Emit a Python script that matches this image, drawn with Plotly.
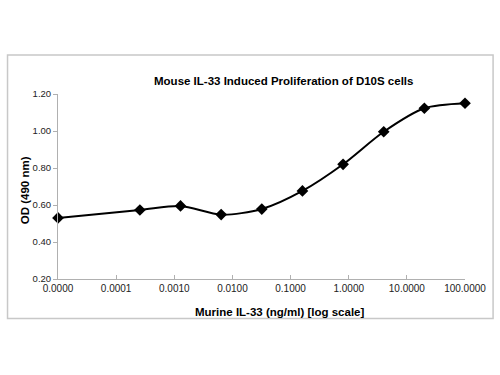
import plotly.graph_objects as go

conc_ng_ml = [0.00001, 0.000256, 0.00128, 0.0064, 0.032, 0.16, 0.8, 4, 20, 100]
od_490 = [0.530, 0.573, 0.595, 0.548, 0.578, 0.676, 0.820, 0.996, 1.123, 1.150]

x_tickvals = [0.00001, 0.0001, 0.001, 0.01, 0.1, 1, 10, 100]
x_ticktext = ["0.0000", "0.0001", "0.0010", "0.0100", "0.1000", "1.0000", "10.0000", "100.0000"]
y_tickvals = [0.2, 0.4, 0.6, 0.8, 1.0, 1.2]
y_ticktext = ["0.20", "0.40", "0.60", "0.80", "1.00", "1.20"]

FONT = "Liberation Sans, Arial, sans-serif"

fig = go.Figure()
fig.add_trace(go.Scatter(
    x=conc_ng_ml, y=od_490, mode="lines+markers",
    line=dict(color="black", width=2, shape="spline", smoothing=0.8),
    marker=dict(symbol="diamond", size=9, color="black"),
    cliponaxis=False, showlegend=False,
))

fig.update_layout(
    width=500, height=375,
    margin=dict(l=58, r=35, t=94, b=96, autoexpand=False),
    paper_bgcolor="white", plot_bgcolor="white",
    font=dict(family=FONT, size=10, color="#222"),
    xaxis=dict(type="log", range=[-5, 2], tickvals=x_tickvals, ticktext=x_ticktext,
               showgrid=False, zeroline=False, showline=True, linecolor="#b0b0b0", linewidth=1,
               ticks="inside", ticklen=4, tickcolor="#b0b0b0", automargin=False,
               tickfont=dict(family=FONT, size=10, color="#222")),
    yaxis=dict(range=[0.2, 1.2], tickvals=y_tickvals, ticktext=y_ticktext,
               showgrid=False, zeroline=False, showline=True, linecolor="#b0b0b0", linewidth=1,
               ticks="outside", ticklen=4, tickcolor="#b0b0b0", automargin=False,
               tickfont=dict(family=FONT, size=9.5, color="#222")),
    shapes=[dict(type="rect", xref="paper", yref="paper",
                 x0=-0.124, x1=1.069, y0=-0.2135, y1=1.211,
                 line=dict(color="#c8c8c8", width=1.5))],
    annotations=[
        dict(text="<b>Mouse IL-33 Induced Proliferation of D10S cells</b>", xref="paper", yref="paper",
             x=0.553, y=1.07, xanchor="center", yanchor="middle", showarrow=False,
             font=dict(family=FONT, size=11.5, color="black")),
        dict(text="<b>Murine IL-33 (ng/ml) [log scale]</b>", xref="paper", yref="paper",
             x=0.545, y=-0.178, xanchor="center", yanchor="middle", showarrow=False,
             font=dict(family=FONT, size=11.5, color="black")),
        dict(text="<b>OD (490 nm)</b>", xref="paper", yref="paper", textangle=-90,
             x=-0.081, y=0.48, xanchor="center", yanchor="middle", showarrow=False,
             font=dict(family=FONT, size=11.5, color="black")),
    ],
)

fig.write_html("out.html", config={"displayModeBar": False},
               post_script="document.body.style.margin='0';")
